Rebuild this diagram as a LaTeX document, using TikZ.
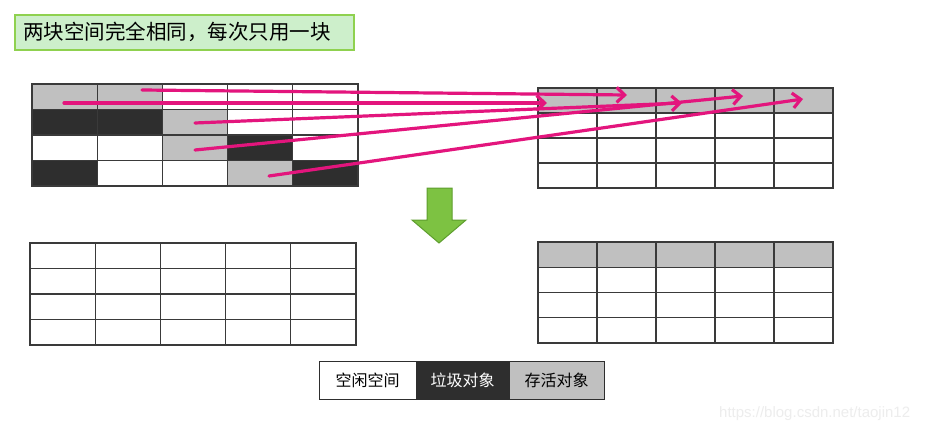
\documentclass[tikz,border=0pt]{standalone}
\usepackage{fontspec}
\setmainfont{Liberation Sans}
\newfontfamily\cjk{Noto Sans CJK SC}
\usetikzlibrary{arrows.meta}
\definecolor{pinkc}{HTML}{E3157D}
\definecolor{gc}{HTML}{C0C0C0}
\definecolor{bc}{HTML}{2E2E2E}
\definecolor{gridc}{HTML}{3A3A3A}
\definecolor{titlefill}{HTML}{CDEFCB}
\definecolor{titledraw}{HTML}{8FD14F}
\definecolor{arrfill}{HTML}{7DC242}
\definecolor{arrdraw}{HTML}{5E9E2E}
\tikzset{
  cell/.style={draw=gridc, line width=1.2pt, inner sep=0pt, outer sep=0pt, anchor=north west},
  cellA/.style={cell, minimum width=65.2pt, minimum height=25.5pt},
  cellB/.style={cell, minimum width=59pt, minimum height=25pt},
  pinkarrow/.style={draw=pinkc, line width=3.2pt, line cap=round, -{Straight Barb[length=8pt,width=15pt]}},
  legend/.style={draw=bc, line width=1pt, minimum height=38pt, inner sep=0pt, outer sep=0pt, anchor=north west, font=\cjk\fontsize{16}{19}\selectfont}
}
\begin{document}
\begin{tikzpicture}[x=1pt,y=-1pt]
\useasboundingbox (0,0) rectangle (929,433);
\fill[white] (0,0) rectangle (929,433);
% title
\node[draw=titledraw, fill=titlefill, line width=2pt, minimum width=339pt, minimum height=35pt, anchor=north west, inner sep=0pt] (title) at (14,14) {};
\node[anchor=west, inner sep=0pt, font=\cjk\fontsize{20.5}{24}\selectfont] (titletext) at (23,31.5) {两块空间完全相同，每次只用一块};
% grid A (top left)
\foreach \r/\c/\f in {0/0/gc,0/1/gc,0/2/white,0/3/white,0/4/white,
                      1/0/bc,1/1/bc,1/2/gc,1/3/white,1/4/white,
                      2/0/white,2/1/white,2/2/gc,2/3/bc,2/4/white,
                      3/0/bc,3/1/white,3/2/white,3/3/gc,3/4/bc}
  \node[cellA, fill=\f] (A-\r-\c) at ({32+\c*65.2},{84+\r*25.5}) {};
% grid B (top right)
\foreach \r in {0,...,3}
  \foreach \c in {0,...,4}{
    \ifnum\r=0 \def\ff{gc}\else\def\ff{white}\fi
    \node[cellB, fill=\ff] (B-\r-\c) at ({538+\c*59},{88+\r*25}) {};
  }
% grid C (bottom left)
\foreach \r in {0,...,3}
  \foreach \c in {0,...,4}
    \node[cellA, fill=white] (C-\r-\c) at ({30+\c*65.2},{243+\r*25.5}) {};
% grid D (bottom right)
\foreach \r in {0,...,3}
  \foreach \c in {0,...,4}{
    \ifnum\r=0 \def\ff{gc}\else\def\ff{white}\fi
    \node[cellB, fill=\ff, minimum height=25.25pt] (D-\r-\c) at ({538+\c*59},{242+\r*25.25}) {};
  }
% arrow end points
\coordinate (s1) at (142,90);  \coordinate (e1) at (627,95);
\coordinate (s2) at (64,103);  \coordinate (e2) at (547,103);
\coordinate (s3) at (195,123); \coordinate (e3) at (682,103);
\coordinate (s4) at (195,150); \coordinate (e4) at (743,96);
\coordinate (s5) at (269,176); \coordinate (e5) at (803,99);
\foreach \i in {1,...,5} \draw[pinkarrow] (s\i) -- (e\i);
% green down arrow
\draw[fill=arrfill, draw=arrdraw, line width=1pt, line join=miter]
  (427,188) -- (452,188) -- (452,220) -- (466,220) -- (439,243) -- (412,220) -- (427,220) -- cycle;
% legend
\node[legend, fill=white, minimum width=97pt] (L1) at (319,361) {空闲空间};
\node[legend, fill=bc, text=white, minimum width=93pt] (L2) at (416,361) {垃圾对象};
\node[legend, fill=gc, minimum width=95pt] (L3) at (509,361) {存活对象};
% watermark
\node[anchor=west, inner sep=0pt, text=black!7, font=\fontsize{15}{18}\selectfont] (wm) at (719,414) {https://blog.csdn.net/taojin12};
\end{tikzpicture}
\end{document}
